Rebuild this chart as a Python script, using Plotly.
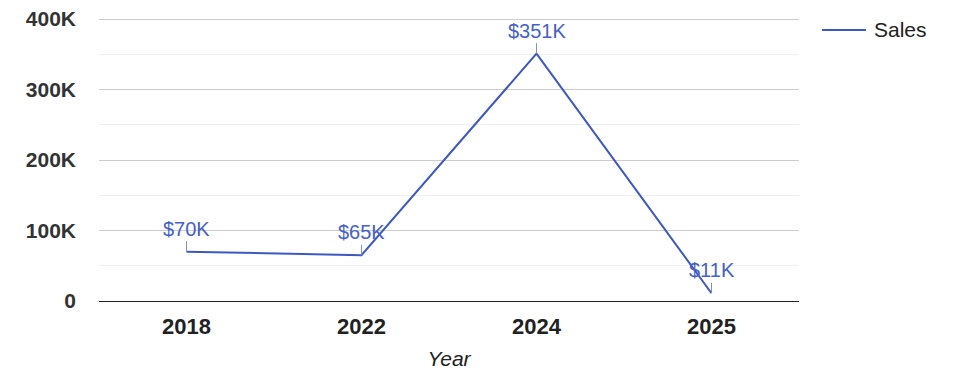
import plotly.graph_objects as go

years = ["2018", "2022", "2024", "2025"]
sales = [70000, 65000, 351000, 11000]
labels = ["$70K", "$65K", "$351K", "$11K"]
series_name = "Sales"
y_tickvals = [0, 100000, 200000, 300000, 400000]
y_ticktext = ["0", "100K", "200K", "300K", "400K"]

LINE = "#3d58c0"
FONT = "Liberation Sans, Arial, sans-serif"
W, H = 975, 378
ML, MR, MT, MB = 99, 176, 18, 77

fig = go.Figure()
fig.add_trace(go.Scatter(x=years, y=sales, mode="lines", name=series_name,
                         line=dict(color=LINE, width=2), hoverinfo="skip",
                         showlegend=False))

for i, (y, t) in enumerate(zip(sales, labels)):
    fig.add_annotation(x=i, y=y, xref="x", yref="y", text=t, showarrow=True,
                       arrowhead=0, arrowwidth=1, arrowcolor="#8090c8",
                       ax=0, ay=-23,
                       font=dict(family=FONT, size=20, color="#4560c8"))

# legend (line sample + name), positioned in paper coordinates
pw, ph = W - ML - MR, H - MT - MB
def px_x(p):
    return (p - ML) / pw
def px_y(p):
    return (H - MB - p) / ph
fig.add_shape(type="line", xref="paper", yref="paper",
              x0=px_x(822), x1=px_x(866), y0=px_y(30), y1=px_y(30),
              line=dict(color=LINE, width=2))
fig.add_annotation(xref="paper", yref="paper", x=px_x(872), y=px_y(30),
                   xanchor="left", yanchor="middle", showarrow=False,
                   text=series_name,
                   font=dict(family=FONT, size=21, color="#222"))

fig.update_layout(
    width=W, height=H,
    margin=dict(l=ML, r=MR, t=MT, b=MB, autoexpand=False),
    paper_bgcolor="white", plot_bgcolor="white",
    font=dict(family=FONT, color="#222"),
    showlegend=False,
    xaxis=dict(type="category", range=[-0.5, 3.5], automargin=False,
               showline=True, linecolor="#222", linewidth=1,
               showgrid=False, ticks="", ticklabelstandoff=6,
               tickfont=dict(family=FONT, size=22, color="#222", weight="bold"),
               title=dict(text="Year", font=dict(family=FONT, size=21, color="#222",
                                                 style="italic"), standoff=12)),
    yaxis=dict(range=[0, 401500], tickvals=y_tickvals, ticktext=y_ticktext,
               automargin=False,
               showgrid=True, gridcolor="#cccccc", gridwidth=1,
               zeroline=True, zerolinecolor="#222", zerolinewidth=1,
               minor=dict(dtick=50000, showgrid=True, gridcolor="#f0f0f0"),
               ticks="", ticklabelstandoff=22,
               tickfont=dict(family=FONT, size=21, color="#333", weight="bold")),
)

fig.write_html("out.html")
